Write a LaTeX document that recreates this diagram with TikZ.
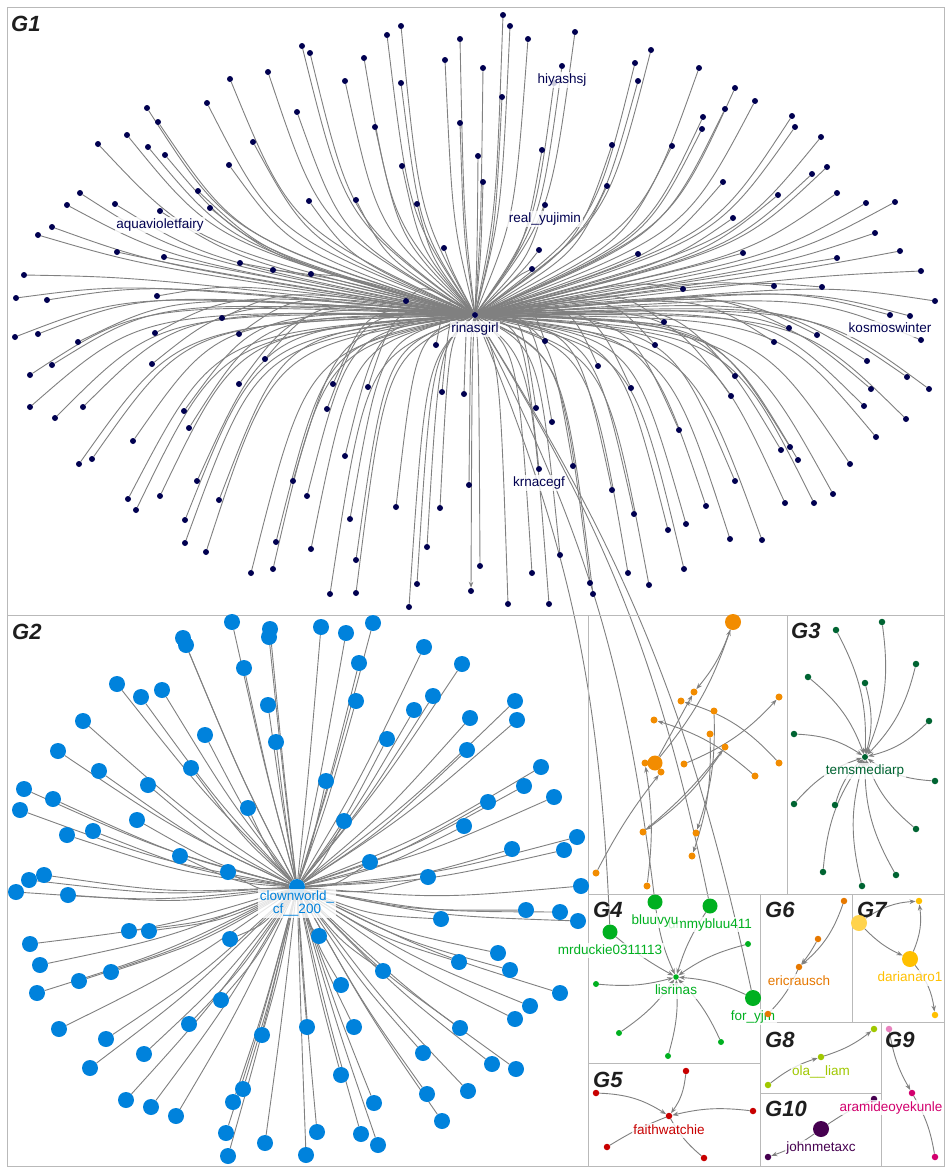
\documentclass[tikz,border=0pt]{standalone}
\usepackage{fontspec}
\setmainfont{Liberation Sans}
\usetikzlibrary{positioning,arrows.meta,backgrounds}

\definecolor{navy}{RGB}{0,0,80}
\definecolor{skyblue}{RGB}{0,130,220}
\definecolor{amber}{RGB}{242,140,0}
\definecolor{forest}{RGB}{0,100,50}
\definecolor{leafgreen}{RGB}{0,176,32}
\definecolor{crimson}{RGB}{200,0,0}
\definecolor{rust}{RGB}{230,120,0}
\definecolor{goldish}{RGB}{255,192,0}
\definecolor{limeish}{RGB}{160,200,0}
\definecolor{rosy}{RGB}{210,0,110}
\definecolor{pinkish}{RGB}{232,130,190}
\definecolor{plum}{RGB}{70,0,80}
\definecolor{linkgray}{RGB}{128,128,128}
\definecolor{framegray}{RGB}{185,185,185}
\definecolor{grouptext}{RGB}{30,30,30}

\newcommand{\lblfont}{\fontsize{13.5}{14}\selectfont}
\newcommand{\grpfont}{\fontsize{22}{24}\selectfont\bfseries\itshape}

% leaves of the two big stars
\def\gonelist{401/26, 387/35, 460/39, 302/46, 310/53, 364/58, 445/60, 268/72, 230/79, 345/81, 401/83,
 207/103, 147/108, 297/112, 158/122, 460/123, 375/127, 127/135, 98/144, 253/142, 148/147, 165/155,
 402/166, 229/165, 198/191, 80/193, 309/201, 356/200, 417/204, 67/205, 115/204, 210/208, 52/227,
 38/235, 444/248, 117/252, 164/257, 240/263, 273/270, 311/274, 24/275, 16/298, 47/300, 157/296, 406/301,
 503/15, 510/26, 528/39, 575/32, 483/68, 554/83, 651/50, 635/63, 638/81, 699/68, 502/97, 735/88,
 755/101, 725/109, 703/117, 702/129, 792/116, 795/127, 821/137, 478/156, 483/182, 542/150, 612/145,
 672/146, 607/186, 827/167, 812/174, 723/182, 778/195, 837/193, 866/203, 895/202, 733/218, 875/233,
 539/250, 532/269, 638/254, 743/253, 837/258, 900/251, 921/271, 683/289, 774/286, 822/287, 935/301,
 222/318, 15/337, 38/334, 78/342, 155/333, 239/334, 436/345, 52/365, 30/375, 152/364, 265/359, 239/384,
 30/407, 83/407, 55/418, 184/411, 189/428, 333/384, 368/387, 327/409, 442/392, 464/394, 133/441, 92/459,
 79/464, 345/456, 197/481, 293/481, 128/499, 160/496, 136/510, 219/500, 307/496, 469/485, 396/507,
 440/508, 185/520, 350/519, 185/543, 206/552, 276/542, 311/549, 356/560, 427/547, 251/573, 273/569,
 330/594, 356/593, 417/584, 409/607,
 910/316, 664/322, 789/328, 817/335, 921/340, 545/341, 655/345, 774/342, 867/361, 598/366, 735/376,
 907/377, 871/389, 929/389, 631/388, 731/396, 864/406, 536/408, 906/419, 552/422, 679/430, 876/437,
 790/447, 781/450, 798/460, 850/464, 573/466, 735/481, 612/490, 833/494, 785/503, 814/503, 634/514,
 706/506, 686/524, 668/530, 730/539, 762/540, 480/566, 560/555, 532/573, 628/573, 649/585, 684/569,
 590/583, 593/594, 508/604, 549/604}
\def\gtwolist{232/622, 270/629, 269/637, 183/638, 186/645, 244/668, 117/684, 141/697, 162/690, 268/705,
 83/721, 205/735, 276/742, 58/751, 99/771, 148/785, 191/768, 24/789, 53/799, 20/810, 248/808, 137/820,
 93/831, 67/835, 180/856, 228/872, 44/875, 29/880, 16/892, 68/895, 129/931, 149/931, 30/944, 230/939,
 40/965, 111/972, 79/981, 37/993, 221/1000, 189/1024, 59/1029, 106/1039, 262/1035, 144/1054, 90/1068,
 243/1089, 233/1102, 126/1100, 151/1107, 176/1116, 226/1133, 265/1143, 228/1156,
 321/627, 346/633, 373/623, 424/647, 359/663, 462/664, 356/701, 433/696, 414/710, 515/701, 517/720,
 470/718, 387/739, 467/750, 541/767, 524/786, 326/781, 488/802, 554/797, 464/826, 344/821, 577/837,
 564/850, 512/849, 370/862, 428/877, 581/886, 526/910, 560/912, 578/921, 441/919, 319/936, 498/953,
 459/962, 510/970, 383/971, 560/993, 341/985, 530/1006, 515/1019, 307/1027, 354/1027, 460/1028,
 423/1053, 492/1064, 516/1069, 468/1091, 341/1075, 374/1103, 427/1094, 442/1121, 317/1132, 361/1134,
 378/1145, 306/1155}

\tikzset{
  link/.style={draw=linkgray, line width=0.9pt},
  arrlink/.style={link, -{Stealth[length=6pt,width=4.5pt]}},
  gonedot/.style={circle, fill=navy, inner sep=0pt, minimum size=6pt},
  gtwodot/.style={circle, fill=skyblue, inner sep=0pt, minimum size=16pt},
  sdot/.style={circle, fill=#1, inner sep=0pt, minimum size=6.5pt},
  bdot/.style={circle, fill=#1, inner sep=0pt, minimum size=16pt},
  lbl/.style={text=#1, fill=white, fill opacity=0.8, text opacity=1, inner sep=1.5pt,
    text height=10pt, text depth=2.5pt, font=\lblfont},
  grp/.style={anchor=base west, inner sep=0pt, text=grouptext, font=\grpfont},
  frame/.style={draw=framegray, line width=1pt}
}

\begin{document}
\begin{tikzpicture}[x=1pt, y=-1pt]
\useasboundingbox (0,0) rectangle (950,1173);

% panels
\draw[frame] (7,7) rectangle (944,1166);
\draw[frame] (7,615) -- (944,615);
\draw[frame] (588,615) -- (588,1166);
\draw[frame] (787,615) -- (787,894);
\draw[frame] (588,894) -- (944,894);
\draw[frame] (760,894) -- (760,1166);
\draw[frame] (852,894) -- (852,1022);
\draw[frame] (760,1022) -- (944,1022);
\draw[frame] (881,1022) -- (881,1166);
\draw[frame] (760,1093) -- (881,1093);
\draw[frame] (588,1063) -- (760,1063);

\node[grp] (tgone) at (11,31) {G1};
\node[grp] (tgtwo) at (12,639) {G2};
\node[grp] (tgthree) at (791,638) {G3};
\node[grp] (tgfour) at (593,917) {G4};
\node[grp] (tgfive) at (593,1087) {G5};
\node[grp] (tgsix) at (765,917) {G6};
\node[grp] (tgseven) at (857,917) {G7};
\node[grp] (tgeight) at (765,1047) {G8};
\node[grp] (tgnine) at (885,1047) {G9};
\node[grp] (tgten) at (765,1116) {G10};

% G1
\node[gonedot] (rinasgirl) at (475,315) {};
\foreach \x/\y [count=\i] in \gonelist {
  \node[gonedot] (ga\i) at (\x,\y) {};
}
\foreach \nm/\x/\y in {aquavioletfairy/160/211, hiyashsj/562/66, realyujimin/545/205,
  kosmoswinter/890/315, krnacegf/539/469} {
  \node[gonedot] (\nm) at (\x,\y) {};
}
\node[gonedot] (gaout) at (471,591) {};
\node[lbl=navy, below=3pt of aquavioletfairy] {aquavioletfairy};
\node[lbl=navy, below=3pt of hiyashsj] {hiyashsj};
\node[lbl=navy, below=3pt of realyujimin] {real\_yujimin};
\node[lbl=navy, below=3pt of kosmoswinter] {kosmoswinter};
\node[lbl=navy, below=3pt of krnacegf] {krnacegf};
\node[lbl=navy, below=3pt of rinasgirl] {rinasgirl};

% G2
\node[gtwodot] (clownworld) at (297,887) {};
\foreach \x/\y [count=\i] in \gtwolist {
  \node[gtwodot] (gb\i) at (\x,\y) {};
}
\node[lbl=skyblue, anchor=north, align=center, font=\fontsize{13.5}{11.5}\selectfont,
  text height=, text depth=] at (297,889) {clownworld\_\\cf\_\_200};

% unlabelled orange panel
\node[bdot=amber] (otop) at (733,622) {};
\node[bdot=amber, minimum size=15pt] (olow) at (655,763) {};
\foreach \nm/\x/\y in {oa/694/692, ob/681/701, oc/654/720, od/779/697, oe/714/711, of/710/734,
  og/725/747, oh/684/764, oi/661/772, oj/645/763, ok/779/763, ol/755/776, om/643/832, on/696/833,
  oo/692/856, op/596/873, oq/647/886} {
  \node[sdot=amber, minimum size=7pt] (\nm) at (\x,\y) {};
}

% G3
\node[sdot=forest, minimum size=6pt] (temsmediarp) at (865,757) {};
\foreach \x/\y [count=\i] in {836/630, 882/622, 916/664, 808/677, 865/683, 929/721, 794/734, 935/781,
  794/804, 835/805, 916/829, 823/872, 896/875, 862/886} {
  \node[sdot=forest] (gc\i) at (\x,\y) {};
}
\node[lbl=forest, below=3pt of temsmediarp] {temsmediarp};

% G4
\node[sdot=leafgreen, minimum size=5.5pt] (lisrinas) at (676,977) {};
\node[bdot=leafgreen, minimum size=15pt] (bluuvyu) at (655,902) {};
\node[bdot=leafgreen, minimum size=15pt] (ummybluu) at (710,906) {};
\node[bdot=leafgreen, minimum size=15pt] (mrduckie) at (610,932) {};
\node[bdot=leafgreen] (foryjm) at (753,998) {};
\foreach \x/\y [count=\i] in {748/944, 596/984, 619/1033, 668/1056, 721/1042} {
  \node[sdot=leafgreen, minimum size=6pt] (gd\i) at (\x,\y) {};
}
\node[lbl=leafgreen, below=3pt of ummybluu] {ummybluu411};
\node[lbl=leafgreen, below=3pt of bluuvyu] {bluuvyu};
\node[lbl=leafgreen, below=3pt of mrduckie] {mrduckie0311113};
\node[lbl=leafgreen, below=3pt of lisrinas] {lisrinas};
\node[lbl=leafgreen, below=3pt of foryjm] {for\_yjm};

% G5
\node[sdot=crimson] (faithwatchie) at (669,1116) {};
\foreach \x/\y [count=\i] in {686/1071, 596/1093, 753/1111, 607/1147, 704/1158} {
  \node[sdot=crimson] (ge\i) at (\x,\y) {};
}
\node[lbl=crimson, below=3pt of faithwatchie] {faithwatchie};

% G6
\node[sdot=rust] (ericrausch) at (799,967) {};
\node[sdot=rust] (gfa) at (844,901) {};
\node[sdot=rust] (gfb) at (818,939) {};
\node[sdot=rust] (gfc) at (768,1014) {};

% G7
\node[bdot=goldish!70!white] (gga) at (859,923) {};
\node[sdot=goldish] (ggb) at (919,901) {};
\node[bdot=goldish] (darianaro) at (910,959) {};
\node[sdot=goldish] (ggc) at (935,1015) {};
\node[lbl=goldish, below=3pt of darianaro] {darianaro1};

% G8
\node[sdot=limeish] (gha) at (768,1085) {};
\node[sdot=limeish] (olaliam) at (821,1057) {};
\node[sdot=limeish] (ghb) at (874,1029) {};
\node[lbl=limeish, below=3pt of olaliam] {ola\_\_liam};

% G10
\node[bdot=plum] (johnmetaxc) at (821,1129) {};
\node[sdot=plum] (gja) at (768,1157) {};
\node[sdot=plum] (gjb) at (874,1099) {};
\node[lbl=plum, below=3pt of johnmetaxc] {johnmetaxc};

% G9
\node[sdot=pinkish] (gia) at (889,1029) {};
\node[sdot=rosy] (aramide) at (912,1093) {};
\node[sdot=rosy] (gib) at (935,1157) {};
\node[lbl=rosy, below=3pt of aramide, xshift=-21pt] {aramideoyekunle};
\node[lbl=rust, below=3pt of ericrausch] {ericrausch};

% connectors
\begin{scope}[on background layer]
\fill[white] (0,0) rectangle (950,1173);
\foreach \x/\y [count=\i] in \gonelist {
  \pgfmathsetmacro\cx{475+0.75*(\x-475)}
  \pgfmathsetmacro\cy{315+0.25*(\y-315)-28}
  \draw[link] (ga\i) .. controls (\cx,\cy) .. (rinasgirl);
}
\foreach \nm/\x/\y in {aquavioletfairy/160/211, hiyashsj/562/66, realyujimin/545/205,
  kosmoswinter/890/315, krnacegf/539/469} {
  \pgfmathsetmacro\cx{475+0.75*(\x-475)}
  \pgfmathsetmacro\cy{315+0.25*(\y-315)-28}
  \draw[link] (\nm) .. controls (\cx,\cy) .. (rinasgirl);
}
\draw[arrlink] (rinasgirl) .. controls (472,356) .. (gaout);
\draw[link] (mrduckie) to[bend right=10] (rinasgirl);
\draw[link] (bluuvyu) to[bend right=10] (rinasgirl);
\draw[link] (ummybluu) to[bend right=10] (rinasgirl);
\draw[link] (foryjm) to[bend right=10] (rinasgirl);

\foreach \x/\y [count=\i] in \gtwolist {
  \pgfmathsetmacro\cx{297+0.5*(\x-297)}
  \pgfmathsetmacro\cy{887+0.5*(\y-887)+12}
  \draw[link] (gb\i) .. controls (\cx,\cy) .. (clownworld);
}

\draw[arrlink] (otop) to[bend left=10] (oa);
\draw[arrlink] (olow) to[bend right=10] (otop);
\draw[arrlink] (olow) -- (oa);
\draw[arrlink] (ok) to[bend right=15] (ob);
\draw[arrlink] (ol) to[bend right=12] (oc);
\draw[arrlink] (oh) to[bend right=12] (od);
\draw[arrlink] (og) to[bend left=10] (om);
\draw[arrlink] (om) to[bend right=6] (og);
\draw[arrlink] (oe) to[bend left=10] (on);
\draw[arrlink] (of) to[bend left=10] (oo);
\draw[arrlink] (op) to[bend left=5] (oi);
\draw[arrlink] (oq) to[bend right=8] (oj);

\foreach \i in {1,...,14} {
  \draw[arrlink] (gc\i) to[bend left=15] (temsmediarp);
}

\draw[arrlink] (mrduckie) to[bend right=5] (lisrinas);
\draw[arrlink] (bluuvyu) to[bend right=8] (lisrinas);
\draw[arrlink] (ummybluu) to[bend right=8] (lisrinas);
\draw[arrlink] (foryjm) to[bend right=10] (lisrinas);
\foreach \i in {1,...,5} {
  \draw[arrlink] (gd\i) to[bend right=10] (lisrinas);
}

\draw[arrlink] (ge1) to[bend left=15] (faithwatchie);
\draw[arrlink] (ge2) to[bend left=15] (faithwatchie);
\draw[arrlink] (ge3) to[bend right=10] (faithwatchie);
\draw[link] (ge4) to[bend left=5] (faithwatchie);
\draw[link] (ge5) to[bend left=10] (faithwatchie);

\draw[arrlink] (gfa) to[bend left=15] (ericrausch);
\draw[arrlink] (gfb) to[bend left=5] (ericrausch);
\draw[link] (gfc) to[bend right=10] (ericrausch);

\draw[arrlink] (gga) to[bend left=15] (ggb);
\draw[arrlink] (darianaro) to[bend right=15] (ggb);
\draw[arrlink] (gga) to[bend right=10] (darianaro);
\draw[arrlink] (darianaro) to[bend left=15] (ggc);

\draw[arrlink] (gha) to[bend left=10] (olaliam);
\draw[arrlink] (olaliam) to[bend right=10] (ghb);

\draw[arrlink] (gia) to[bend right=10] (aramide);
\draw[link] (gib) to[bend right=10] (aramide);

\draw[arrlink] (johnmetaxc) to[bend left=8] (gja);
\draw[link] (gjb) to[bend right=5] (johnmetaxc);
\end{scope}
\end{tikzpicture}
\end{document}
